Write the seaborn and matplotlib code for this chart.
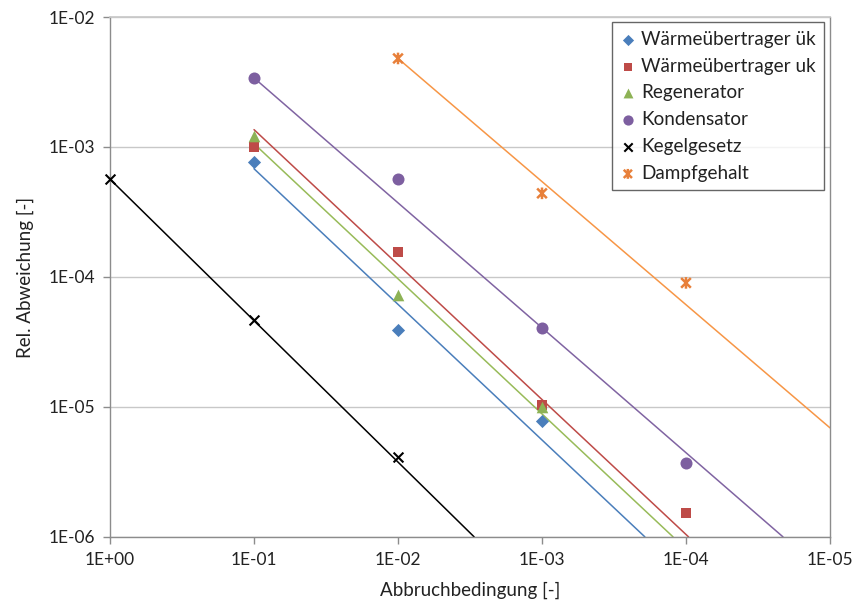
import numpy as np
import pandas as pd
import seaborn as sns
import matplotlib.pyplot as plt
import matplotlib.ticker as ticker
from matplotlib.path import Path

sns.set_theme(style="white")
plt.rcParams['font.family'] = ['Lato', 'DejaVu Sans']

# measured points
x_uek = [1e-1, 1e-2, 1e-3]
y_uek = [7.7e-4, 3.9e-5, 7.85e-6]
x_uk = [1e-1, 1e-2, 1e-3, 1e-4]
y_uk = [1.0e-3, 1.56e-4, 1.04e-5, 1.53e-6]
x_regen = [1e-1, 1e-2, 1e-3]
y_regen = [1.21e-3, 7.3e-5, 1.0e-5]
x_kond = [1e-1, 1e-2, 1e-3, 1e-4]
y_kond = [3.4e-3, 5.7e-4, 4.07e-5, 3.7e-6]
x_kegel = [1e0, 1e-1, 1e-2]
y_kegel = [5.65e-4, 4.67e-5, 4.1e-6]
x_dampf = [1e-2, 1e-3, 1e-4]
y_dampf = [4.8e-3, 4.4e-4, 9.0e-5]

# trend lines (start / end)
trend_x_start = [1e-1, 1e-1, 1e-1, 1e-1, 1e0, 1e-2]
trend_y_start = [6.8e-4, 1.36e-3, 1.06e-3, 3.4e-3, 5.65e-4, 4.8e-3]
trend_x_end = [1.93e-4, 9.6e-5, 1.23e-4, 2.12e-5, 2.96e-3, 1e-5]
trend_y_end = [1e-6, 1e-6, 1e-6, 1e-6, 1e-6, 6.9e-6]

names = ['Wärmeübertrager ük', 'Wärmeübertrager uk', 'Regenerator',
         'Kondensator', 'Kegelgesetz', 'Dampfgehalt']
xs = [x_uek, x_uk, x_regen, x_kond, x_kegel, x_dampf]
ys = [y_uek, y_uk, y_regen, y_kond, y_kegel, y_dampf]

marker_colors = ['#4A7EBB', '#BE4B48', '#8DB255', '#7D5FA0', '#000000', '#E8803A']
line_colors = ['#4A7EBB', '#BE4B48', '#98BB59', '#8064A2', '#000000', '#F79646']

# Excel-like star marker: X plus vertical bar
star = Path([(-1, -1), (1, 1), (-1, 1), (1, -1), (0, -1.2), (0, 1.2)],
            [Path.MOVETO, Path.LINETO, Path.MOVETO, Path.LINETO, Path.MOVETO, Path.LINETO])
markers = ['D', 's', '^', 'o', 'x', star]
sizes = [45, 55, 70, 75, 50, 70]

trend = pd.DataFrame({
    'series': names * 2,
    'x': trend_x_start + trend_x_end,
    'y': trend_y_start + trend_y_end,
})

fig = plt.figure(figsize=(8.53, 6.08), dpi=100)
ax = fig.add_axes([0.129, 0.117, 0.844, 0.855])
ax.set_xscale('log')
ax.set_yscale('log')

sns.lineplot(data=trend, x='x', y='y', hue='series', palette=dict(zip(names, line_colors)),
             estimator=None, sort=True, legend=False, linewidth=1.1, ax=ax, zorder=2)

for name, x, y, m, c, s in zip(names, xs, ys, markers, marker_colors, sizes):
    if m == 'x':
        sns.scatterplot(x=x, y=y, marker='x', color=c, s=s, linewidth=1.5, label=name,
                        ax=ax, zorder=3, clip_on=False)
    elif m is star:
        sns.scatterplot(x=x, y=y, marker=m, facecolor='none', edgecolor=c, s=s, linewidth=1.8,
                        label=name, ax=ax, zorder=3, clip_on=False)
    else:
        sns.scatterplot(x=x, y=y, marker=m, color=c, s=s, linewidth=0, label=name,
                        ax=ax, zorder=3, clip_on=False)

ax.set_xlim(1e0, 1e-5)
ax.set_ylim(1e-6, 1e-2)
ax.xaxis.set_major_locator(ticker.LogLocator(base=10, numticks=10))
ax.yaxis.set_major_locator(ticker.LogLocator(base=10, numticks=10))
ax.xaxis.set_minor_locator(ticker.NullLocator())
ax.yaxis.set_minor_locator(ticker.NullLocator())
fmt = ticker.FuncFormatter(lambda v, p: f"{v:.0E}")
ax.xaxis.set_major_formatter(fmt)
ax.yaxis.set_major_formatter(fmt)

ax.grid(axis='y', color='#C8C8C8', linewidth=1)
ax.set_axisbelow(True)
for side in ['left', 'bottom', 'right']:
    ax.spines[side].set_color('#8C8C8C')
    ax.spines[side].set_linewidth(1)
ax.spines['top'].set_color('#C8C8C8')
ax.tick_params(axis='both', direction='out', length=5, width=1, color='#8C8C8C',
               labelsize=12.5, labelcolor='#222222', pad=6, left=True, bottom=True)

ax.set_xlabel('Abbruchbedingung [-]', fontsize=13.5, color='#222222', labelpad=10)
ax.set_ylabel('Rel. Abweichung [-]', fontsize=13.5, color='#222222', labelpad=10)

leg = ax.legend(loc='upper right', bbox_to_anchor=(0.992, 0.99), borderaxespad=0,
                fontsize=13.6, frameon=True, fancybox=False, scatterpoints=1,
                markerscale=0.85, handlelength=0.8, handletextpad=0.3,
                labelspacing=0.52, borderpad=0.45)
leg.get_frame().set_edgecolor('#404040')
leg.get_frame().set_linewidth(1)
for t in leg.get_texts():
    t.set_color('#222222')

plt.savefig('out.png', dpi=100)
